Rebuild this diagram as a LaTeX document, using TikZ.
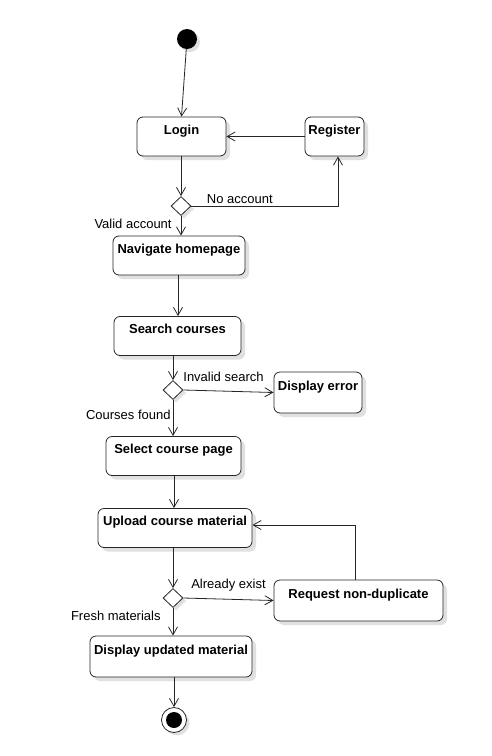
\documentclass[tikz,border=0pt]{standalone}
\usepackage{fontspec}
\setmainfont{Liberation Sans}
\usepackage{tikz}
\usetikzlibrary{arrows.meta}
\usetikzlibrary{shapes.geometric,shadows}
\colorlet{lgray}{black!12}
\tikzstyle{flow}=[line width=.8pt,draw=black!85,>={Straight Barb[length=8pt,width=9pt]},->]
\tikzstyle{act}=[draw=black!85,line width=.8pt,rounded corners=6pt,fill=white,
  minimum height=39pt,inner ysep=5pt,text height=12pt,text depth=17pt,
  font=\fontsize{13}{15}\selectfont\bfseries,
  drop shadow={shadow xshift=4pt,shadow yshift=-4pt,fill=lgray,opacity=1}]
\tikzstyle{dec}=[diamond,draw=black!85,line width=.8pt,fill=white,inner sep=0pt,
  minimum width=20pt,minimum height=19pt,
  drop shadow={shadow xshift=3pt,shadow yshift=-3pt,fill=lgray,opacity=1}]
\tikzstyle{lbl}=[inner sep=2pt]
\begin{document}
\begin{tikzpicture}[x=1pt,y=-1pt,font=\fontsize{13}{15}\selectfont]
	\useasboundingbox (0,0) rectangle (491,756);
	% nodes
	\node[circle,fill=black,inner sep=0pt,minimum size=20pt,
	  drop shadow={shadow xshift=3pt,shadow yshift=-3pt,fill=lgray,opacity=1}] (start) at (187,39) {};
	\node[act,minimum width=89pt] (login) at (181.5,136.5) {Login};
	\node[act,minimum width=59pt,inner xsep=1pt] (register) at (334.5,136.5) {Register};
	\node[dec] (d1) at (181,206) {};
	\node[act,minimum width=132pt,inner xsep=1pt] (nav) at (179,255.5) {Navigate homepage};
	\node[act,minimum width=127pt] (search) at (177.5,336) {Search courses};
	\node[dec] (d2) at (173,390) {};
	\node[act,minimum width=88pt,minimum height=41pt,inner xsep=1pt] (err) at (318,392.5) {Display error};
	\node[act,minimum width=135pt] (select) at (173.5,456) {Select course page};
	\node[act,minimum width=154pt,inner xsep=1pt] (upload) at (175,528) {Upload course material};
	\node[dec] (d3) at (173,598) {};
	\node[act,minimum width=169pt,minimum height=41pt] (req) at (358.5,600.5) {Request non-duplicate};
	\node[act,minimum width=162pt,minimum height=41pt,inner xsep=1pt] (disp) at (171,656.5) {Display updated material};
	\node[circle,draw=black!85,line width=.8pt,fill=white,inner sep=0pt,minimum size=25pt,
	  drop shadow={shadow xshift=3pt,shadow yshift=-3pt,fill=lgray,opacity=1}] (end) at (174,720) {};
	\fill (end.center) circle (8);
	% connectors
	\draw[flow] (start) -- (login.north);
	\draw[flow] (register) -- (login);
	\draw[flow] (login.south -| d1) -- (d1.north);
	\draw[flow] (d1.east) -- node[lbl,above,pos=.33]{No account} (d1.east -| 338,0) -- ([xshift=3.5pt]register.south);
	\draw[flow] (d1.south) -- node[lbl,left,pos=.4,xshift=-7pt]{Valid account} (nav.north -| d1);
	\draw[flow] (nav.south -| 178,0) -- (search.north -| 178,0);
	\draw[flow] (search.south -| d2) -- (d2.north);
	\draw[flow] (d2.east) -- node[lbl,above,xshift=-5pt,yshift=7pt]{Invalid search} (err.west);
	\draw[flow] (d2.south) -- node[lbl,left,pos=.4]{Courses found} (select.north -| d2);
	\draw[flow] (select.south -| 174,0) -- (upload.north -| 174,0);
	\draw[flow] (upload.south -| d3) -- (d3.north);
	\draw[flow] (d3.east) -- node[lbl,above,yshift=6pt]{Already exist} (req.west);
	\draw[flow] ([xshift=-3pt]req.north) |- ([yshift=3pt]upload.east);
	\draw[flow] (d3.south) -- node[lbl,left,pos=.3,xshift=-10pt]{Fresh materials} (disp.north -| d3);
	\draw[flow] (disp.south -| end) -- (end.north);
\end{tikzpicture}
\end{document}
